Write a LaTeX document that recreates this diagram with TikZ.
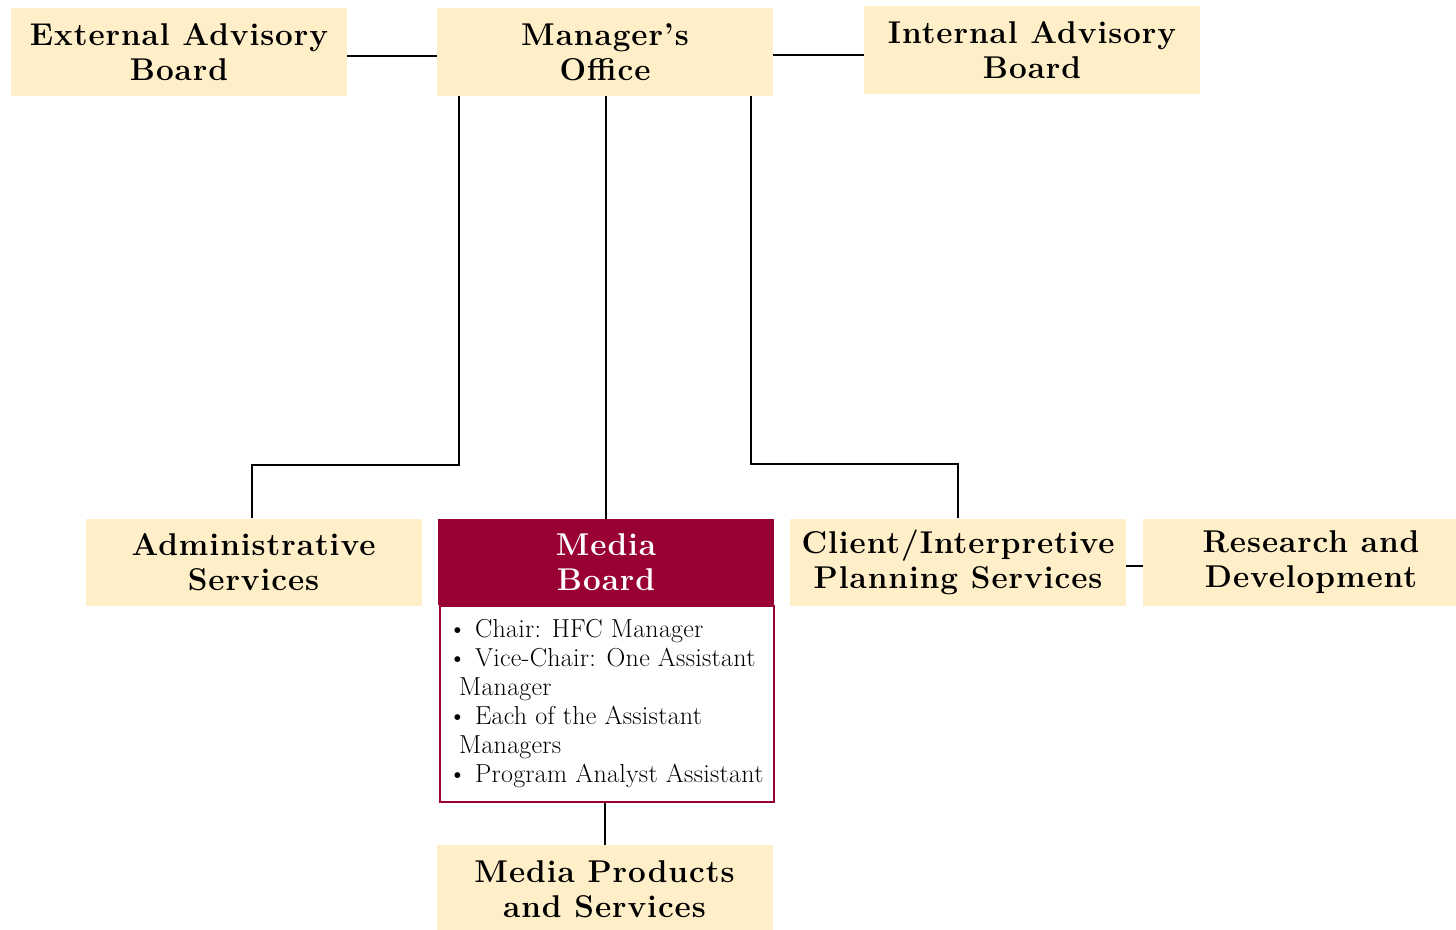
\documentclass[tikz,border=0pt]{standalone}
\usepackage{fontspec}
\newfontfamily\headfont[LetterSpace=3]{Latin Modern Roman}
\newfontfamily\listfont[LetterSpace=1]{Latin Modern Roman}
\definecolor{cream}{RGB}{255,239,200}
\definecolor{wine}{RGB}{153,0,51}
\tikzset{
  cbox/.style={rectangle, fill=cream, inner sep=0pt, minimum width=336pt, minimum height=88pt,
    align=center, font=\headfont\fontsize{31.5}{35}\selectfont\bfseries},
  hbox/.style={cbox, fill=wine, text=white},
  link/.style={draw=black, line width=2pt},
}
\begin{document}
\begin{tikzpicture}[x=1pt,y=-1pt]
\useasboundingbox (0,0) rectangle (1456,929);
\node[cbox] (ext) at (179,52) {External Advisory\\Board};
\node[cbox] (mgr) at (605,52) {Manager’s\\Office};
\node[cbox] (int) at (1032,50) {Internal Advisory\\Board};
\node[cbox, minimum height=87pt] (adm) at (253.5,562) {Administrative\\Services};
\node[hbox, minimum height=86pt] (mhead) at (606,562) {Media\\Board};
\node[rectangle, draw=wine, line width=2pt, fill=white, minimum width=334pt, minimum height=196pt, inner sep=0pt] (mbody) at (606.5,703.5) {};
\node[anchor=north west, inner sep=0pt, align=left, font=\listfont\fontsize{26}{29}\selectfont] (mlist) at (448,619)
 {\textbullet\ Chair: HFC Manager\\
  \textbullet\ Vice-Chair: One Assistant\\
  \hspace*{11pt}Manager\\
  \textbullet\ Each of the Assistant\\
  \hspace*{11pt}Managers\\
  \textbullet\ Program Analyst Assistant};
\node[cbox, minimum height=87pt] (cli) at (958,562) {Client/Interpretive\\Planning Services};
\node[cbox, minimum height=87pt] (rd) at (1311,562) {Research and\\Development};
\node[cbox] (mps) at (604.5,889) {Media Products\\and Services};
\draw[link] ([yshift=-4pt]ext.east) -- ([yshift=-4pt]mgr.west);
\draw[link] ([yshift=-3pt]mgr.east) -- ([yshift=-5pt]int.west);
\draw[link] ([xshift=-146pt]mgr.south) -- ++(0,369) -| ([xshift=-2pt]adm.north);
\draw[link] (mgr.south -| mhead.north) -- (mhead.north);
\draw[link] ([xshift=146pt]mgr.south) -- ++(0,368) -| (cli.north);
\draw[link] ([yshift=-4pt]cli.east) -- ([yshift=-4pt]rd.west);
\draw[link] (mbody.south -| mps.north) -- (mps.north);
\end{tikzpicture}
\end{document}
